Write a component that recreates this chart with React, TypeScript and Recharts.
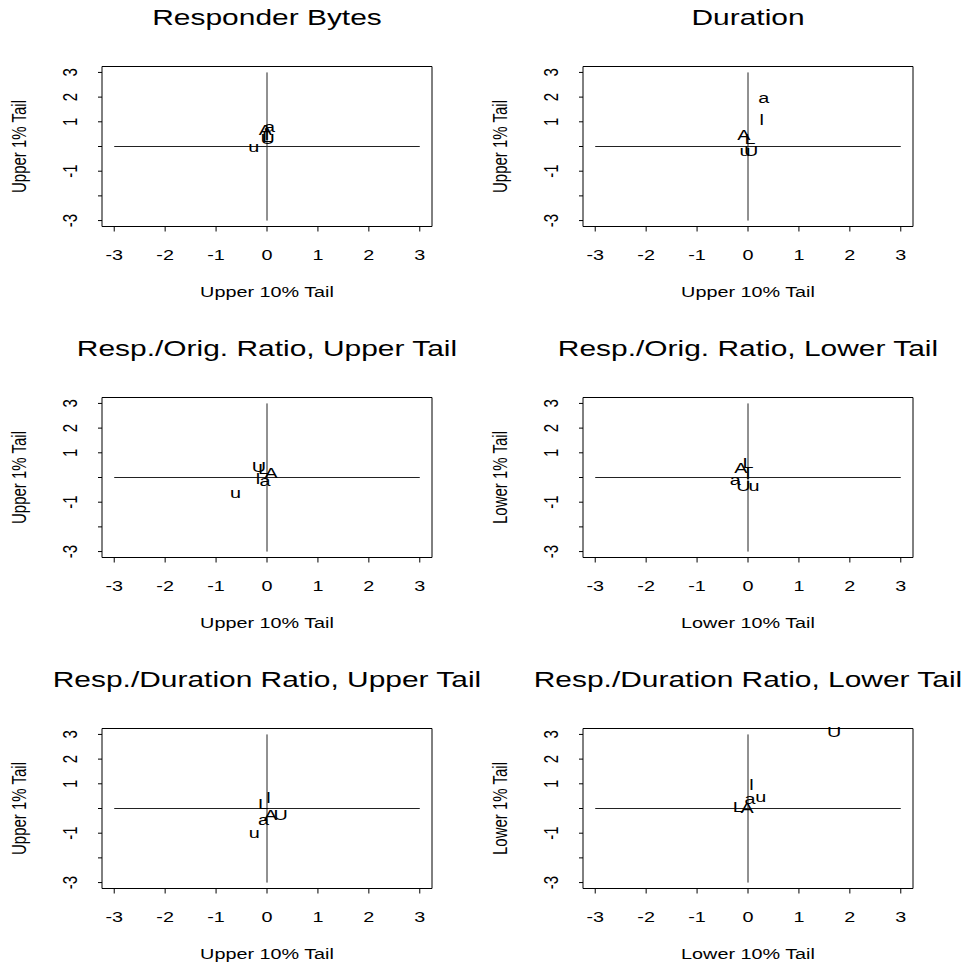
import React from 'react';
import { ScatterChart, Scatter, XAxis, YAxis, ReferenceLine, ReferenceArea } from 'recharts';

// point labels, same order in every panel
const letters = ['a', 'l', 'A', 'L', 'u', 'U'];
const axisTicks = [-3, -2, -1, 0, 1, 2, 3];
const yLabelled = [3, 2, 1, -1, -3]; // R drops the 0 and -2 labels

const titles = [
  'Responder Bytes',
  'Duration',
  'Resp./Orig. Ratio, Upper Tail',
  'Resp./Orig. Ratio, Lower Tail',
  'Resp./Duration Ratio, Upper Tail',
  'Resp./Duration Ratio, Lower Tail',
];
const xLabels = ['Upper 10% Tail', 'Upper 10% Tail', 'Upper 10% Tail', 'Lower 10% Tail', 'Upper 10% Tail', 'Lower 10% Tail'];
const yLabels = ['Upper 1% Tail', 'Upper 1% Tail', 'Upper 1% Tail', 'Lower 1% Tail', 'Upper 1% Tail', 'Lower 1% Tail'];

const respBytesX = [0.05, 0.0, -0.03, 0.01, -0.26, 0.01];
const respBytesY = [0.8, 0.5, 0.67, 0.4, 0.0, 0.33];
const durationX = [0.31, 0.27, -0.08, 0.04, -0.06, 0.06];
const durationY = [1.99, 1.08, 0.5, 0.33, -0.18, -0.18];
const origUpperX = [-0.04, -0.18, 0.08, -0.07, -0.62, -0.16];
const origUpperY = [-0.13, -0.03, 0.21, 0.37, -0.6, 0.44];
const origLowerX = [-0.25, 0.0, -0.14, 0.0, 0.12, -0.09];
const origLowerY = [-0.09, 0.15, 0.38, 0.59, -0.32, -0.32];
const durUpperX = [-0.07, 0.03, 0.07, -0.07, -0.25, 0.27];
const durUpperY = [-0.47, 0.44, -0.26, 0.21, -0.97, -0.26];
const durLowerX = [0.04, 0.07, -0.02, -0.19, 0.25, 1.69];
const durLowerY = [0.42, 0.98, 0.03, 0.07, 0.48, 3.1];

const seriesX = [respBytesX, durationX, origUpperX, origLowerX, durUpperX, durLowerX];
const seriesY = [respBytesY, durationY, origUpperY, origLowerY, durUpperY, durLowerY];

const FONT = '"Liberation Sans", Arial, sans-serif';
const STRETCH = 1.32;
const W = 480;
const H = 331;
const BOX_L = 102;
const BOX_T = 66.5;
const BOX_W = 330;
const BOX_H = 160;
const LIM = 3.24;

const StretchText = ({ x, y, size, stretch = STRETCH, rotate = false, children }: any) => (
  <text
    transform={`translate(${x},${y}) scale(${stretch},1)${rotate ? ' rotate(-90)' : ''}`}
    x={0}
    y={size * 0.358}
    textAnchor="middle"
    fontSize={size}
    fontFamily={FONT}
    fill="#000"
  >
    {children}
  </text>
);

const LetterShape = (props: any) => {
  const { cx, cy, payload } = props;
  return <StretchText x={cx} y={cy} size={15}>{payload.label}</StretchText>;
};

const XTick = (props: any) => (
  <StretchText x={props.x} y={BOX_T + BOX_H + 28.5} size={15}>{String(props.payload.value)}</StretchText>
);

const YTick = (props: any) => {
  const v = props.payload.value;
  if (!yLabelled.includes(v)) return <g />;
  return <StretchText x={70} y={props.y} size={15} rotate>{String(v)}</StretchText>;
};

const Panel = ({ idx }: { idx: number }) => {
  const data = letters.map((label, i) => ({ label, x: seriesX[idx][i], y: seriesY[idx][i] }));
  const left = (idx % 2) * 480.5;
  const top = Math.floor(idx / 2) * 331;
  return (
    <div style={{ position: 'absolute', left, top, width: W, height: H }}>
      <ScatterChart
        width={W}
        height={H}
        margin={{ top: BOX_T, left: BOX_L - 60, right: W - BOX_L - BOX_W, bottom: H - BOX_T - BOX_H - 60 }}
      >
        <XAxis
          type="number"
          dataKey="x"
          domain={[-LIM, LIM]}
          ticks={axisTicks}
          interval={0}
          height={60}
          axisLine={false}
          tickLine={{ stroke: '#000' }}
          tickSize={5}
          tick={(p: any) => <XTick {...p} />}
        />
        <YAxis
          type="number"
          dataKey="y"
          domain={[-LIM, LIM]}
          ticks={axisTicks}
          interval={0}
          width={60}
          axisLine={false}
          tickLine={{ stroke: '#000' }}
          tickSize={4}
          tick={(p: any) => <YTick {...p} />}
        />
        <ReferenceArea x1={-LIM} x2={LIM} y1={-LIM} y2={LIM} fill="none" fillOpacity={0} stroke="#000" strokeOpacity={1} />
        <ReferenceLine segment={[{ x: -3, y: 0 }, { x: 3, y: 0 }]} stroke="#222" />
        <ReferenceLine segment={[{ x: 0, y: -3 }, { x: 0, y: 3 }]} stroke="#222" />
        <Scatter data={data} shape={LetterShape} isAnimationActive={false} />
      </ScatterChart>
      <svg
        width={W + 10}
        height={H}
        style={{ position: 'absolute', left: 0, top: 0, overflow: 'visible', pointerEvents: 'none' }}
      >
        <StretchText x={BOX_L + BOX_W / 2} y={16.5} size={22.5} stretch={1.33}>{titles[idx]}</StretchText>
        <StretchText x={BOX_L + BOX_W / 2} y={291.5} size={15}>{xLabels[idx]}</StretchText>
        <StretchText x={18.5} y={BOX_T + BOX_H / 2} size={15} rotate>{yLabels[idx]}</StretchText>
      </svg>
    </div>
  );
};

export default function App() {
  return (
    <div style={{ position: 'absolute', left: 0, top: 0, width: 971, height: 968, background: '#fff', overflow: 'hidden' }}>
      {[0, 1, 2, 3, 4, 5].map((i) => (
        <Panel key={i} idx={i} />
      ))}
    </div>
  );
}
